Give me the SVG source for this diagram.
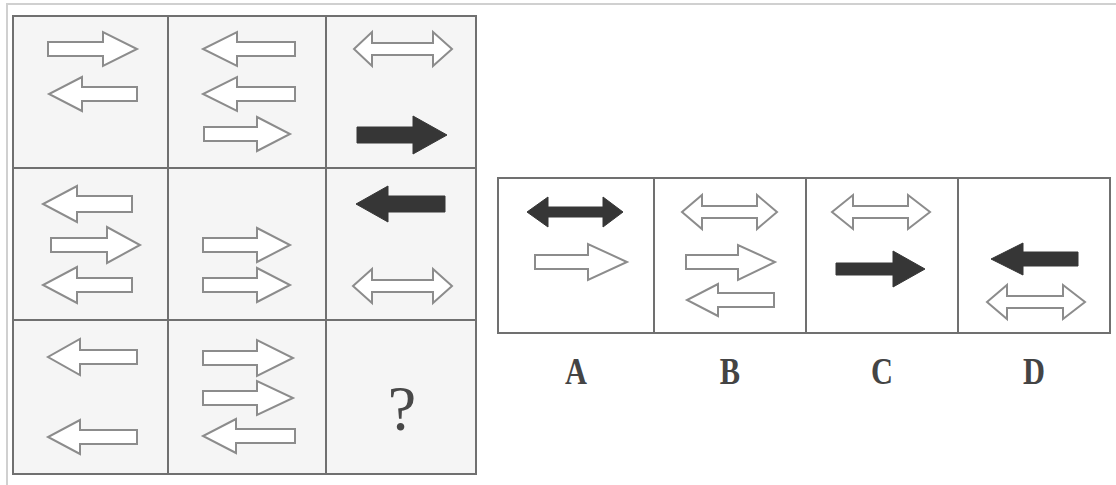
<svg xmlns="http://www.w3.org/2000/svg" width="1116" height="485" viewBox="0 0 1116 485">
<style>
.frame{fill:none;stroke:#d0d0d0;stroke-width:2}
.cellbg{fill:#f5f5f5}
.grid{fill:none;stroke:#707070;stroke-width:2}
.o{fill:#ffffff;stroke:#8c8c8c;stroke-width:2;stroke-linejoin:miter}
.b{fill:#363636;stroke:#363636;stroke-width:1}
.lbl{font-family:"Liberation Serif","Times New Roman",serif;font-size:38px;font-weight:bold;fill:#444;text-anchor:middle}
.q{font-family:"Liberation Serif","Times New Roman",serif;font-size:64px;fill:#484848;text-anchor:middle}
</style>
<rect width="1116" height="485" fill="#ffffff"/>
<path class="frame" d="M7,485 L7,4 L1116,4"/>
<g id="matrix">
<rect class="cellbg" x="13" y="16" width="463" height="458"/>
<path class="grid" d="M13,16 H476 V474 H13 Z M168,16 V474 M326,16 V474 M13,168 H476 M13,320 H476"/>
</g>
<g id="cell-1-1">
<path class="o" d="M48,42 L103,42 L103,32 L137,49 L103,66 L103,56 L48,56 Z"/>
<path class="o" d="M137,87 L82,87 L82,77 L49,94 L82,111 L82,101 L137,101 Z"/>
</g>
<g id="cell-1-2">
<path class="o" d="M295,42 L237,42 L237,32 L203,49 L237,66 L237,56 L295,56 Z"/>
<path class="o" d="M295,87 L237,87 L237,77 L203,94 L237,111 L237,101 L295,101 Z"/>
<path class="o" d="M204,127 L257,127 L257,117 L290,134 L257,151 L257,141 L204,141 Z"/>
</g>
<g id="cell-1-3">
<path class="o" d="M354,49 L372,32 L372,43 L433,43 L433,32 L452,49 L433,66 L433,55 L372,55 L372,66 Z"/>
<path class="b" d="M357,127 L413,127 L413,116 L447,135 L413,154 L413,143 L357,143 Z"/>
</g>
<g id="cell-2-1">
<path class="o" d="M132,196 L77,196 L77,186 L43,204 L77,222 L77,212 L132,212 Z"/>
<path class="o" d="M51,238 L107,238 L107,227 L140,245 L107,263 L107,252 L51,252 Z"/>
<path class="o" d="M132,278 L77,278 L77,267 L43,285 L77,303 L77,292 L132,292 Z"/>
</g>
<g id="cell-2-2">
<path class="o" d="M203,238 L257,238 L257,228 L290,245 L257,262 L257,252 L203,252 Z"/>
<path class="o" d="M203,278 L257,278 L257,268 L290,285 L257,302 L257,292 L203,292 Z"/>
</g>
<g id="cell-2-3">
<path class="b" d="M445,196 L388,196 L388,186 L356,204 L388,222 L388,212 L445,212 Z"/>
<path class="o" d="M353,286 L372,269 L372,280 L433,280 L433,269 L452,286 L433,303 L433,292 L372,292 L372,303 Z"/>
</g>
<g id="cell-3-1">
<path class="o" d="M137,350 L80,350 L80,339 L48,357 L80,375 L80,364 L137,364 Z"/>
<path class="o" d="M137,430 L80,430 L80,420 L48,437 L80,454 L80,444 L137,444 Z"/>
</g>
<g id="cell-3-2">
<path class="o" d="M203,351 L257,351 L257,340 L293,358 L257,376 L257,365 L203,365 Z"/>
<path class="o" d="M203,391 L257,391 L257,381 L293,398 L257,415 L257,405 L203,405 Z"/>
<path class="o" d="M295,429 L236,429 L236,419 L203,436 L236,453 L236,443 L295,443 Z"/>
</g>
<g id="cell-3-3">
<text class="q" x="402" y="430">?</text>
</g>
<g id="options">
<rect x="498" y="178" width="612" height="155" fill="#ffffff"/>
<path class="grid" d="M498,178 H1110 V333 H498 Z M654,178 V333 M806,178 V333 M958,178 V333"/>
</g>
<g id="option-A">
<path class="b" d="M527,212 L548,197 L548,207 L603,207 L603,197 L623,212 L603,227 L603,217 L548,217 L548,227 Z"/>
<path class="o" d="M535,255 L588,255 L588,244 L627,262 L588,280 L588,269 L535,269 Z"/>
<text class="lbl" transform="translate(576,384) scale(0.8,1)">A</text>
</g>
<g id="option-B">
<path class="o" d="M682,212 L702,195 L702,206 L757,206 L757,195 L777,212 L757,229 L757,218 L702,218 L702,229 Z"/>
<path class="o" d="M686,255 L738,255 L738,245 L775,262 L738,280 L738,269 L686,269 Z"/>
<path class="o" d="M774,293 L718,293 L718,284 L687,300 L718,316 L718,307 L774,307 Z"/>
<text class="lbl" transform="translate(730,384) scale(0.8,1)">B</text>
</g>
<g id="option-C">
<path class="o" d="M832,212 L853,195 L853,206 L908,206 L908,195 L930,212 L908,229 L908,218 L853,218 L853,229 Z"/>
<path class="b" d="M836,263 L893,263 L893,251 L925,269 L893,287 L893,275 L836,275 Z"/>
<text class="lbl" transform="translate(882,384) scale(0.8,1)">C</text>
</g>
<g id="option-D">
<path class="b" d="M1078,252 L1023,252 L1023,243 L991,259 L1023,275 L1023,266 L1078,266 Z"/>
<path class="o" d="M987,302 L1007,285 L1007,296 L1063,296 L1063,285 L1085,302 L1063,319 L1063,308 L1007,308 L1007,319 Z"/>
<text class="lbl" transform="translate(1034,384) scale(0.8,1)">D</text>
</g>
<g id="connectors"/>
</svg>
